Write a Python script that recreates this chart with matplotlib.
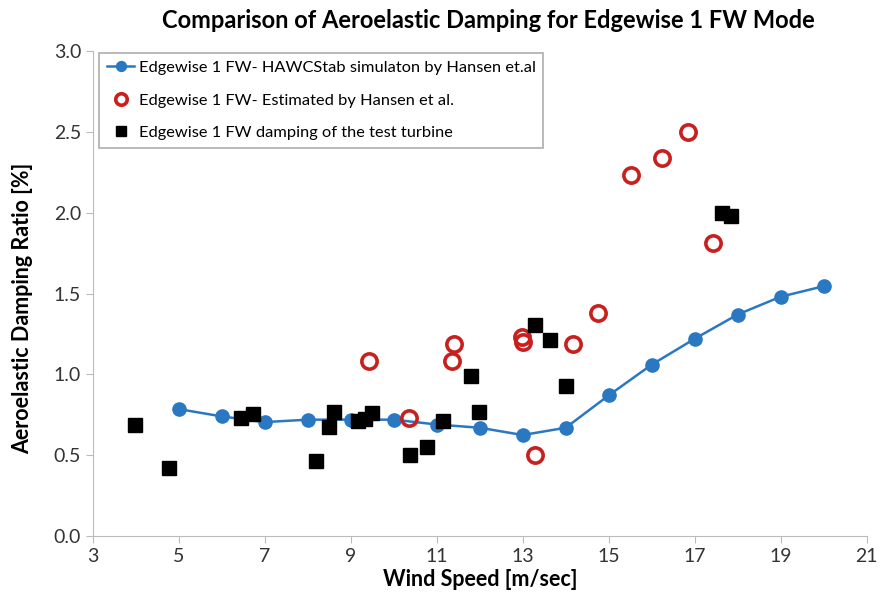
import matplotlib
matplotlib.use("Agg")
import matplotlib.pyplot as plt

plt.rcParams['font.family'] = ['Lato', 'DejaVu Sans']

# HAWCStab simulation (Hansen et al.)
sim_ws = [5, 6, 7, 8, 9, 10, 11, 12, 13, 14, 15, 16, 17, 18, 19, 20]
sim_damp = [0.785, 0.74, 0.705, 0.72, 0.72, 0.72, 0.69, 0.67, 0.625, 0.67,
            0.87, 1.06, 1.22, 1.37, 1.48, 1.545]

# Estimated by Hansen et al.
est_ws = [9.42, 10.35, 11.4, 11.35, 12.98, 13.0, 13.28, 14.16, 14.74,
          15.53, 16.23, 16.84, 17.42]
est_damp = [1.08, 0.73, 1.19, 1.08, 1.23, 1.20, 0.50, 1.19, 1.38,
            2.23, 2.34, 2.50, 1.81]

# Test turbine
test_ws = [3.98, 4.77, 6.44, 6.72, 8.19, 8.49, 8.60, 9.16, 9.33, 9.49,
           10.37, 10.77, 11.14, 11.79, 11.98, 13.28, 13.63, 14.0, 17.63, 17.84]
test_damp = [0.686, 0.42, 0.73, 0.755, 0.464, 0.674, 0.767, 0.711, 0.724, 0.761,
             0.50, 0.55, 0.711, 0.99, 0.767, 1.305, 1.21, 0.928, 2.0, 1.98]

fig = plt.figure(figsize=(8.8, 5.99), dpi=100)
ax = fig.add_axes([0.1057, 0.105, 0.879, 0.81])

ax.plot(sim_ws, sim_damp, '-o', color='#2a78c2', lw=1.8, markersize=9.5,
        label='Edgewise 1 FW- HAWCStab simulaton by Hansen et.al', zorder=2)
ax.plot(est_ws, est_damp, 'o', mfc='none', mec='#c8201e', mew=2.6, markersize=11,
        label='Edgewise 1 FW- Estimated by Hansen et al.', zorder=3)
ax.plot(test_ws, test_damp, 's', color='black', markersize=10,
        label='Edgewise 1 FW damping of the test turbine', zorder=4)

ax.set_xlim(3, 21)
ax.set_ylim(0, 3.0)
ax.set_xticks(range(3, 22, 2))
ax.set_yticks([0, 0.5, 1.0, 1.5, 2.0, 2.5, 3.0])
ax.set_yticklabels(['%.1f' % v for v in ax.get_yticks()])
ax.tick_params(labelsize=14, color='#bbbbbb', labelcolor='#333333', length=5)

for s in ['top', 'right']:
    ax.spines[s].set_visible(False)
for s in ['left', 'bottom']:
    ax.spines[s].set_color('#bbbbbb')

ax.set_xlabel('Wind Speed [m/sec]', fontsize=15.5, fontweight='bold', labelpad=3)
ax.set_ylabel('Aeroelastic Damping Ratio [%]', fontsize=15.5, fontweight='bold')
ax.yaxis.set_label_coords(-0.077, 0.47)
fig.text(0.555, 0.966, 'Comparison of Aeroelastic Damping for Edgewise 1 FW Mode',
         fontsize=17, fontweight='bold', ha='center', va='center')

leg = ax.legend(loc='upper left', bbox_to_anchor=(0.008, 0.995), borderaxespad=0,
                fontsize=11.8, frameon=True, fancybox=False, handlelength=1.7,
                handletextpad=0.25, borderpad=0.45, labelspacing=1.1,
                markerscale=0.75)
leg.get_frame().set_edgecolor('#999999')
leg.get_frame().set_linewidth(1.2)

fig.savefig('out.png', dpi=100)
